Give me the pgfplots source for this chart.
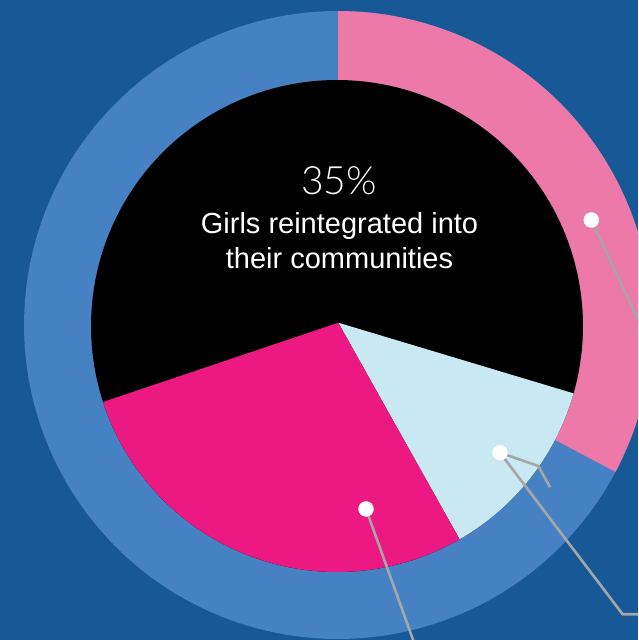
\documentclass[border=0pt]{standalone}
\usepackage{pgfplots}
\pgfplotsset{compat=1.18}
\usepackage{fontspec}
\setmainfont{Liberation Sans}
\newfontfamily\lightfont{Lato Light}

\definecolor{bgblue}{HTML}{175896}
\definecolor{ringblue}{HTML}{4682C3}
\definecolor{ringpink}{HTML}{EC79A8}
\definecolor{piemagenta}{HTML}{ED1983}
\definecolor{pielight}{HTML}{C8E9F2}
\definecolor{leader}{HTML}{A6A6A6}

\begin{document}
\begin{tikzpicture}
\begin{axis}[
    scale only axis,
    width=638pt,height=640pt,
    xmin=0,xmax=638,ymin=0,ymax=640,
    axis lines=none,
    clip=true,
]
% background
\fill[bgblue] (rel axis cs:0,0) rectangle (rel axis cs:1,1);

% outer ring: blue full circle, pink slice from 90 to -27.9 degrees
\addplot[draw=none,fill=ringblue,domain=0:360,samples=200]
    ({338+314*cos(x)},{315+314*sin(x)}) -- cycle;
\addplot[draw=none,fill=ringpink,domain=-27.9:90,samples=80]
    ({338+314*cos(x)},{315+314*sin(x)}) -- (338,315) -- cycle;

% inner pie: black, light blue, magenta
\addplot[draw=none,fill=black,domain=0:360,samples=200]
    ({337+246*cos(x)},{314+246*sin(x)}) -- cycle;
\addplot[draw=none,fill=pielight,domain=-60.1:-15.9,samples=40]
    ({337+246*cos(x)},{314+246*sin(x)}) -- (338.3,317.3) -- cycle;
\addplot[draw=none,fill=piemagenta,domain=-162:-60.1,samples=80]
    ({337+246*cos(x)},{314+246*sin(x)}) -- (338.3,317.3) -- cycle;

% leader lines
\addplot[leader,line width=2.6pt] coordinates {(591.3,420) (650,295)};
\addplot[leader,line width=2.6pt] coordinates {(500,187.3) (538.3,174) (550,152.7)};
\addplot[leader,line width=2.6pt] coordinates {(500,187.3) (622.7,25.7) (645,25.7)};
\addplot[leader,line width=2.6pt] coordinates {(366,131) (416,-8)};

% dots
\addplot[only marks,mark=*,mark size=7.5pt,color=white] coordinates {
    (591.3,420) (500,187.3) (366,131)
};

% centre label
\node[white,anchor=base,inner sep=0pt,font=\lightfont\fontsize{39}{42}\selectfont]
    at (339,445) {35\%};
\node[white,anchor=base,inner sep=0pt,font=\fontsize{29}{35}\selectfont]
    at (339.5,406.7) {Girls reintegrated into};
\node[white,anchor=base,inner sep=0pt,font=\fontsize{29}{35}\selectfont]
    at (339.5,371.7) {their communities};
\end{axis}
\end{tikzpicture}
\end{document}
